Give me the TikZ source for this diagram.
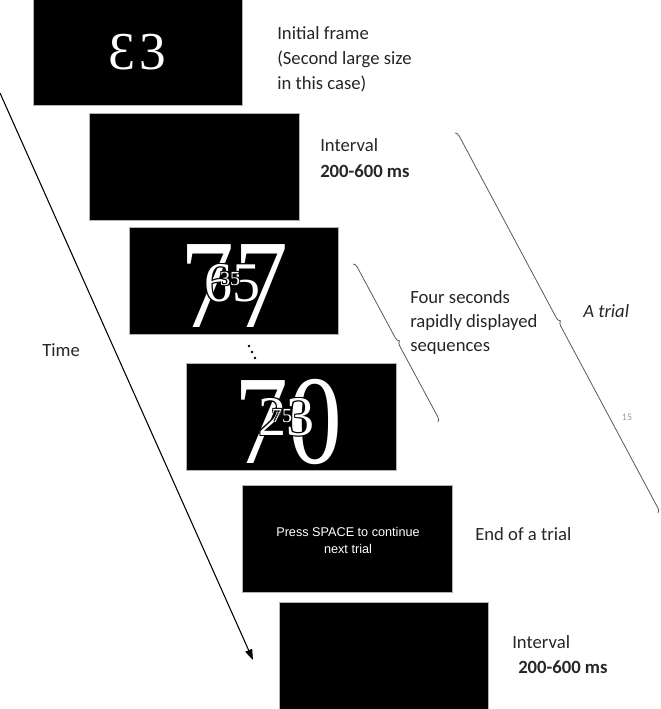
\documentclass[tikz,border=0pt]{standalone}
\usepackage{fontspec}
\setmainfont{Carlito}
\newfontfamily\digitfont{Liberation Serif}
\newfontfamily\arialfont{Liberation Sans}
\usetikzlibrary{decorations.pathreplacing,arrows.meta,calc}
\newcommand{\halotext}[4]{% name, position, size, text
  \foreach \dx/\dy in {-1/-1,1/1,-1/1,1/-1}{
    \node[dig, text=black, font=\digitfont\fontsize{#3}{#3}\selectfont] at ($(#2)+(\dx,\dy)$) {#4};}
  \node[dig, font=\digitfont\fontsize{#3}{#3}\selectfont] (#1) at (#2) {#4};}
\begin{document}
\begin{tikzpicture}[x=0.75pt,y=-0.75pt,
  screen/.style={fill=black, draw=gray!60, line width=0.6pt},
  lab/.style={anchor=base west, inner sep=0pt, font=\fontsize{14}{17}\selectfont, text=black!85},
  dig/.style={text=white, inner sep=0pt},
  brc/.style={decorate, decoration={brace, amplitude=3.4pt}, draw=black!65, line width=0.6pt}]

\useasboundingbox (0,0) rectangle (660,709);

% frames
\draw[screen] (33,-2) rectangle (242,105);
\draw[screen] (89,113) rectangle (299,220);
\draw[screen] (129,227) rectangle (338,334);
\draw[screen] (186,363) rectangle (396,470);
\draw[screen] (242,485) rectangle (452,592);
\draw[screen] (279,602) rectangle (488,712);

% frame 1 digits
\node[dig, font=\digitfont\fontsize{40}{40}\selectfont] (d1) at (137,52) {\reflectbox{3}\hspace{3pt}3};

% frame 3 digits
\node[dig, font=\digitfont\fontsize{95}{95}\selectfont] (d3a) at (234,286) {\scalebox{0.85}[1]{77}};
\halotext{d3b}{232,283}{42}{65}
\halotext{d3c}{230,279}{15}{35}

% dots
\fill (249,346) circle (1pt);
\fill (252,352) circle (1pt);
\fill (255,358) circle (1pt);

% frame 4 digits
\node[dig, font=\digitfont\fontsize{95}{95}\selectfont] (d4a) at (288,422) {\scalebox{0.85}[1]{70}};
\halotext{d4b}{286,417}{42}{23}
\halotext{d4c}{282,416}{15}{75}

% frame 5 text
\node[dig, anchor=base, font=\arialfont\fontsize{9.5}{11}\selectfont] (p1) at (348,536) {Press SPACE to continue};
\node[dig, anchor=base, font=\arialfont\fontsize{9.5}{11}\selectfont] (p2) at (348,553) {next trial};

% labels
\node[lab] (l1) at (277,40) {Initial frame};
\node[lab] (l2) at (277,65) {(Second large size};
\node[lab] (l3) at (277,90) {in this case)};
\node[lab] (i1) at (320,152) {Interval};
\node[lab, font=\bfseries\fontsize{14}{17}\selectfont] (i2) at (320,178) {200-600 ms};
\node[lab] (f1) at (410,303) {Four seconds};
\node[lab] (f2) at (410,327) {rapidly displayed};
\node[lab] (f3) at (410,351) {sequences};
\node[lab, font=\itshape\fontsize{14}{17}\selectfont] (at) at (583,317) {A trial};
\node[anchor=center, inner sep=0pt, text=black!40, font=\fontsize{7.5}{9}\selectfont] (pg) at (627,417) {15};
\node[lab] (e1) at (475,540) {End of a trial};
\node[lab] (i3) at (512,648) {Interval};
\node[lab, font=\bfseries\fontsize{14}{17}\selectfont] (i4) at (518,673) {200-600 ms};
\node[lab] (tm) at (42,356) {Time};

% braces
\coordinate (b1s) at (455,133);
\coordinate (b1e) at (658,513);
\coordinate (b2s) at (353,264);
\coordinate (b2e) at (438,422);
\draw[brc] (b1s) -- (b1e);
\draw[brc] (b2s) -- (b2e);

% time arrow
\coordinate (ts) at (0,93);
\coordinate (te) at (253,660);
\draw[line width=0.8pt, -{Triangle[length=8pt,width=5.5pt]}] (ts) -- (te);
\end{tikzpicture}
\end{document}
